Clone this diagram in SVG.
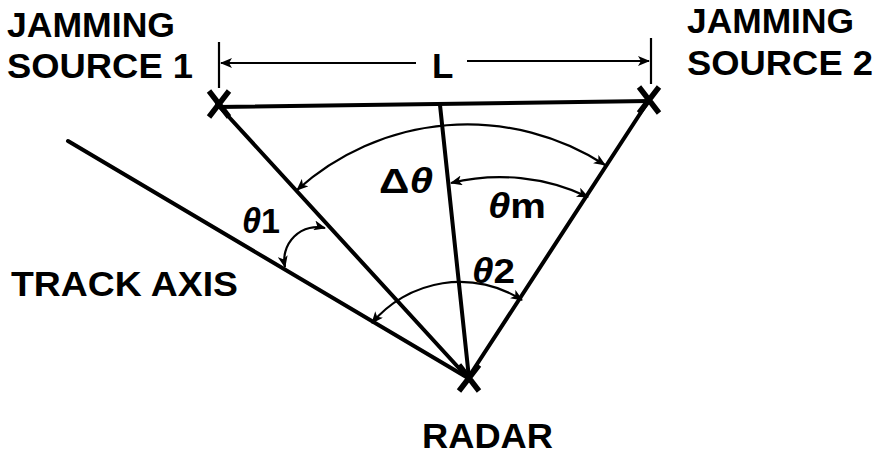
<svg xmlns="http://www.w3.org/2000/svg" width="880" height="455" viewBox="0 0 880 455">
<style>
text{font-family:"Liberation Sans",Arial,sans-serif;font-weight:bold;fill:#000}
.lbl{font-size:35px}
.ang{font-size:35px}
.th{font-style:italic}
.thick{stroke:#000;stroke-width:4;fill:none;stroke-linecap:round}
.thin{stroke:#000;stroke-width:2.2;fill:none}
.x{stroke:#000;stroke-width:5.5;fill:none}
</style>
<defs>
<marker id="ah" viewBox="0 0 12 10" refX="11" refY="5" markerWidth="13" markerHeight="10" markerUnits="userSpaceOnUse" orient="auto-start-reverse"><path d="M0,0 L12,5 L0,10 L3,5 z" fill="#000"/></marker>
</defs>
<rect width="880" height="455" fill="#fff"/>
<g id="connectors">
<path class="thick" d="M218,107 L649,101"/>
<path class="thick" d="M217,104 L468,378"/>
<path class="thick" d="M649,100 L468,378"/>
<path class="thick" d="M440,105 L469,378"/>
<path class="thick" d="M68,141 L468,378"/>
<path class="thin" d="M219,42 V88 M651,38 V84"/>
<path class="thin" d="M221,63 H416" marker-start="url(#ah)"/>
<path class="thin" d="M467,61 H649" marker-end="url(#ah)"/>
<path class="thin" d="M297,190 A254,254 0 0 1 605,165" marker-start="url(#ah)" marker-end="url(#ah)"/>
<path class="thin" d="M451,183 A205,205 0 0 1 588,197" marker-start="url(#ah)" marker-end="url(#ah)"/>
<path class="thin" d="M325,228 A33,33 0 0 0 285,267" marker-start="url(#ah)" marker-end="url(#ah)"/>
<path class="thin" d="M372,323 A115,115 0 0 1 522,300" marker-start="url(#ah)" marker-end="url(#ah)"/>
</g>
<g id="jamming-source-1">
<path class="x" d="M209,91 L229,117 M229,91 L209,117"/>
<text class="lbl" x="7" y="37" textLength="168" lengthAdjust="spacingAndGlyphs">JAMMING</text>
<text class="lbl" x="7" y="78" textLength="186" lengthAdjust="spacingAndGlyphs">SOURCE 1</text>
</g>
<g id="jamming-source-2">
<path class="x" d="M639,87 L659,113 M659,87 L639,113"/>
<text class="lbl" x="687" y="33" textLength="167" lengthAdjust="spacingAndGlyphs">JAMMING</text>
<text class="lbl" x="687" y="75" textLength="186" lengthAdjust="spacingAndGlyphs">SOURCE 2</text>
</g>
<g id="radar">
<path class="x" d="M459,365 L479,391 M479,365 L459,391"/>
<text class="lbl" x="422" y="448" textLength="131" lengthAdjust="spacingAndGlyphs">RADAR</text>
</g>
<g id="track-axis">
<text class="lbl" x="11" y="296" textLength="227" lengthAdjust="spacingAndGlyphs">TRACK AXIS</text>
</g>
<g id="labels">
<text class="lbl" x="432" y="78" font-size="37">L</text>
<text class="ang" x="379" y="193" textLength="54" lengthAdjust="spacingAndGlyphs">Δ<tspan class="th">θ</tspan></text>
<text class="ang" x="242" y="233" textLength="38" lengthAdjust="spacingAndGlyphs"><tspan class="th">θ</tspan>1</text>
<text class="ang" x="488" y="218" textLength="58" lengthAdjust="spacingAndGlyphs"><tspan class="th">θ</tspan>m</text>
<text class="ang" x="472" y="283" textLength="43" lengthAdjust="spacingAndGlyphs"><tspan class="th">θ</tspan>2</text>
</g>
</svg>
